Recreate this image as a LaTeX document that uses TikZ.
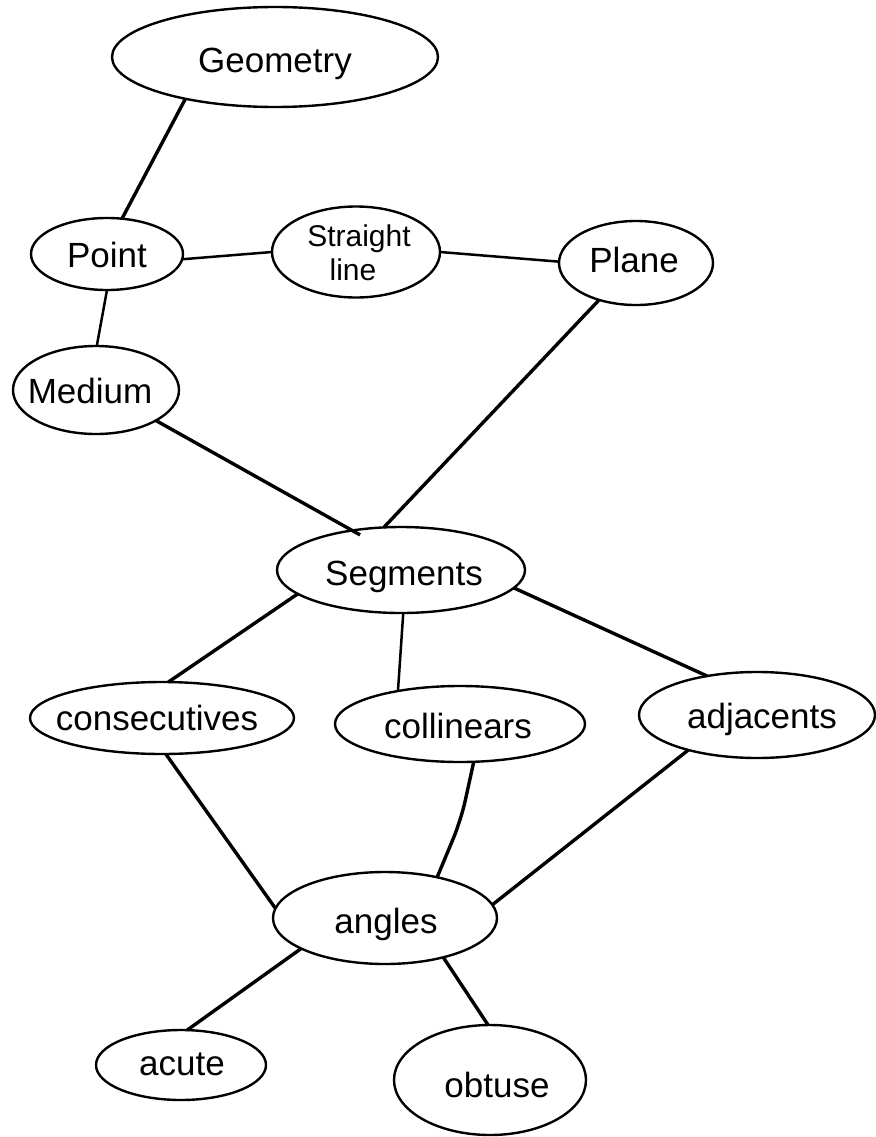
\documentclass[tikz,border=0pt]{standalone}
\usepackage{fontspec}
\setmainfont{Liberation Sans}
\usetikzlibrary{shapes.geometric}
% label text of zero size, shifted by (#1, #2) from the node centre
\newcommand{\lbl}[3]{\makebox[0pt]{\hspace*{#1}\hspace*{#1}\raisebox{#2}[0pt][0pt]{#3}}}
\begin{document}
\begin{tikzpicture}[x=1pt,y=-1pt,
  concept/.style={ellipse, draw, line width=2.4pt, inner sep=0pt, outer sep=0pt,
    font=\fontsize{35}{40}\selectfont},
  link/.style={line width=3.4pt},
  thin link/.style={line width=2.5pt}]
\useasboundingbox[fill=white] (0,0) rectangle (875,1137);

% concepts
\node[concept, minimum width=326pt, minimum height=100pt] (geo) at (275,57) {\lbl{0pt}{-16pt}{Geometry}};
\node[concept, minimum width=152pt, minimum height=72pt] (pt) at (107,254) {\lbl{0pt}{-13pt}{Point}};
\node[concept, minimum width=168pt, minimum height=91pt, font=\fontsize{30}{34}\selectfont] (sl) at (356,252)
  {\lbl{3pt}{6pt}{Straight}\lbl{-3pt}{-28pt}{line}};
\node[concept, minimum width=154pt, minimum height=84pt] (pl) at (636,263) {\lbl{-2pt}{-9pt}{Plane}};
\node[concept, minimum width=166pt, minimum height=88pt] (med) at (96,390) {\lbl{-6pt}{-13pt}{Medium}};
\node[concept, minimum width=248pt, minimum height=86pt] (seg) at (401,570) {\lbl{3pt}{-15pt}{Segments}};
\node[concept, minimum width=264pt, minimum height=72pt] (cons) at (162,718) {\lbl{-5pt}{-12pt}{consecutives}};
\node[concept, minimum width=250pt, minimum height=76pt] (coll) at (460,724) {\lbl{-2pt}{-14pt}{collinears}};
\node[concept, minimum width=236pt, minimum height=86pt] (adj) at (757,715) {\lbl{5pt}{-13pt}{adjacents}};
\node[concept, minimum width=224pt, minimum height=92pt] (ang) at (385,918) {\lbl{1pt}{-15pt}{angles}};
\node[concept, minimum width=170pt, minimum height=70pt] (acu) at (181,1065) {\lbl{1pt}{-10pt}{acute}};
\node[concept, minimum width=192pt, minimum height=110pt] (obt) at (490,1080) {\lbl{7pt}{-17pt}{obtuse}};

% connections
\draw[link] (geo.205) -- (pt.67);
\draw[thin link] (pt.356) -- (sl.180);
\draw[thin link] (sl.0) -- (pl.179);
\draw[thin link] (pt.270) -- (med.89);
\draw[link, shorten >=-9pt] (med.333) -- (seg.141);
\draw[link] (pl.225) -- (seg.112);
\draw[link] (seg.193) -- (cons.80);
\draw[thin link] (seg.273) -- (coll.152);
\draw[link] (seg.351) -- (adj.142);
\draw[link] (cons.276) -- (ang.175);
\coordinate (kink) at (461,820);
\draw[link, rounded corners=20pt] (coll.290) -- (kink) -- (ang.38);
\draw[link] (adj.207) -- (ang.7);
\draw[link] (ang.200) -- (acu.80);
\draw[link] (ang.326) -- (obt.92);
\end{tikzpicture}
\end{document}
